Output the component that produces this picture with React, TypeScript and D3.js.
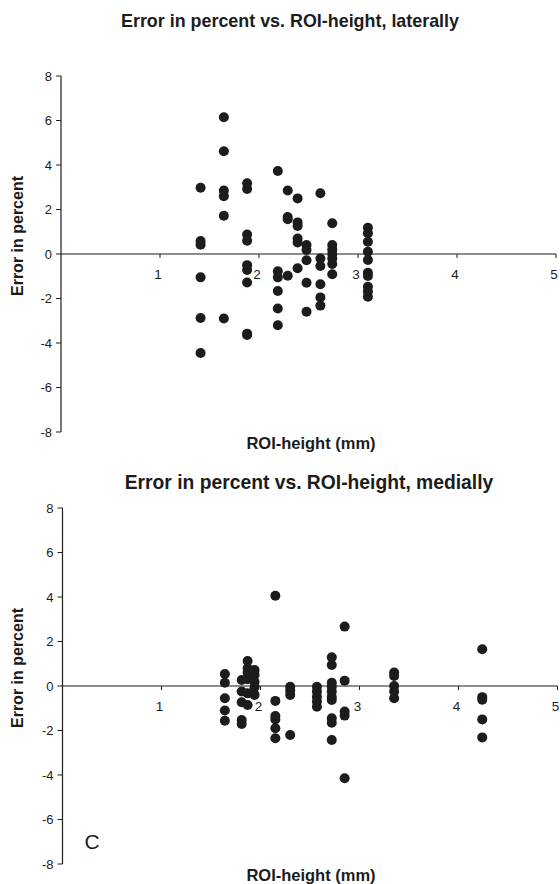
import * as d3 from "d3";

// ROI-height columns (mm) and the errors (%) measured at each height
const lateralHeights = [1.41, 1.645, 1.88, 2.19, 2.29, 2.39, 2.48, 2.62, 2.74, 3.1];
const lateralErrors = [
  [2.98, 0.58, 0.42, -1.05, -2.88, -4.45],
  [6.15, 4.62, 2.85, 2.6, 1.72, -2.9],
  [3.18, 2.92, 0.88, 0.6, -0.5, -0.72, -1.28, -3.64, -3.58],
  [3.73, -0.78, -1.05, -1.66, -2.45, -3.2],
  [2.85, 1.66, 1.56, -0.98],
  [2.5, 1.42, 1.26, 0.7, 0.52, -0.64],
  [0.4, 0.18, -0.28, -1.29, -2.59],
  [2.73, -0.2, -0.54, -1.36, -1.95, -2.32],
  [1.38, 0.4, 0.2, 0.0, -0.2, -0.45, -0.91],
  [1.18, 0.93, 0.55, 0.1, -0.27, -0.84, -0.99, -1.47, -1.69, -1.92],
];

const medialHeights = [1.64, 1.81, 1.87, 1.94, 2.15, 2.3, 2.57, 2.72, 2.85, 3.35, 4.24];
const medialErrors = [
  [0.54, 0.15, -0.55, -1.1, -1.56],
  [0.27, -0.25, -0.73, -1.53, -1.71],
  [1.12, 0.8, 0.6, 0.3, -0.33, -0.85],
  [0.72, 0.5, 0.19, -0.05, -0.4],
  [4.06, -0.67, -1.35, -1.5, -1.9, -2.35],
  [-0.03, -0.2, -0.4, -2.2],
  [-0.03, -0.25, -0.48, -0.7, -0.93],
  [1.29, 0.94, 0.15, -0.03, -0.25, -0.48, -0.63, -1.45, -1.65, -2.43],
  [2.67, 0.24, -1.15, -1.33, -4.15],
  [0.61, 0.45, 0, -0.25, -0.55],
  [1.65, -0.5, -0.62, -1.5, -2.31],
];

const xTicks = [1, 2, 3, 4, 5];
const yTicks = [8, 6, 4, 2, 0, -2, -4, -6, -8];

const FONT = "'Liberation Sans', Arial, sans-serif";
const INK = "#1c1c1c";

interface PanelProps {
  title: string;
  titleSize: number;
  titleX: number;
  titleY: number;
  heights: number[];
  errors: number[][];
  x0: number;
  top: number;
  labelY: number;
  letter?: string;
}

const Panel = ({ title, titleSize, titleX, titleY, heights, errors, x0, top, labelY, letter }: PanelProps) => {
  const x = d3.scaleLinear().domain([0, 5]).range([x0, x0 + 5 * 99]);
  const y = d3.scaleLinear().domain([8, -8]).range([top, top + 356]);
  const points = heights.flatMap((h, i) => errors[i].map((e) => [h, e] as [number, number]));

  return (
    <g fontFamily={FONT} fill={INK}>
      <text x={titleX} y={titleY} textAnchor="middle" fontWeight="bold" fontSize={titleSize}>
        {title}
      </text>
      {/* y axis */}
      <line x1={x(0)} x2={x(0)} y1={y(8)} y2={y(-8)} stroke={INK} strokeWidth={1.2} />
      {yTicks.map((t) => (
        <g key={t}>
          <line x1={x(0) - 5} x2={x(0)} y1={y(t)} y2={y(t)} stroke={INK} strokeWidth={1} />
          <text x={x(0) - 9} y={y(t)} dy="0.35em" textAnchor="end" fontSize={13}>
            {t}
          </text>
        </g>
      ))}
      {/* x axis at zero */}
      <line x1={x(0)} x2={x(5)} y1={y(0)} y2={y(0)} stroke={INK} strokeWidth={1.2} />
      {xTicks.map((t) => (
        <g key={t}>
          <line x1={x(t)} x2={x(t)} y1={y(0)} y2={y(0) + 4} stroke={INK} strokeWidth={1} />
          <text x={x(t) - 2} y={y(0) + 25} textAnchor="middle" fontSize={13.5}>
            {t}
          </text>
        </g>
      ))}
      <text
        transform={`translate(23, ${y(0) - 18}) rotate(-90)`}
        textAnchor="middle"
        fontWeight="bold"
        fontSize={16}
      >
        Error in percent
      </text>
      <text x={311} y={labelY} textAnchor="middle" fontWeight="bold" fontSize={16.5}>
        ROI-height (mm)
      </text>
      {letter && (
        <text x={92} y={y(-7) + 7} textAnchor="middle" fontSize={21}>
          {letter}
        </text>
      )}
      {points.map(([h, e], i) => (
        <circle key={i} cx={x(h)} cy={y(e)} r={5} fill={INK} />
      ))}
    </g>
  );
};

export default function App() {
  return (
    <svg
      width={560}
      height={884}
      style={{ position: "absolute", left: 0, top: 0, background: "#fff" }}
    >
      <rect width={560} height={884} fill="#fff" />
      <Panel
        title="Error in percent vs. ROI-height, laterally"
        titleSize={17.9}
        titleX={290}
        titleY={27}
        heights={lateralHeights}
        errors={lateralErrors}
        x0={61}
        top={76}
        labelY={449}
      />
      <Panel
        title="Error in percent vs. ROI-height, medially"
        titleSize={19.3}
        titleX={309}
        titleY={489}
        heights={medialHeights}
        errors={medialErrors}
        x0={62.5}
        top={508}
        labelY={881}
        letter="C"
      />
    </svg>
  );
}
